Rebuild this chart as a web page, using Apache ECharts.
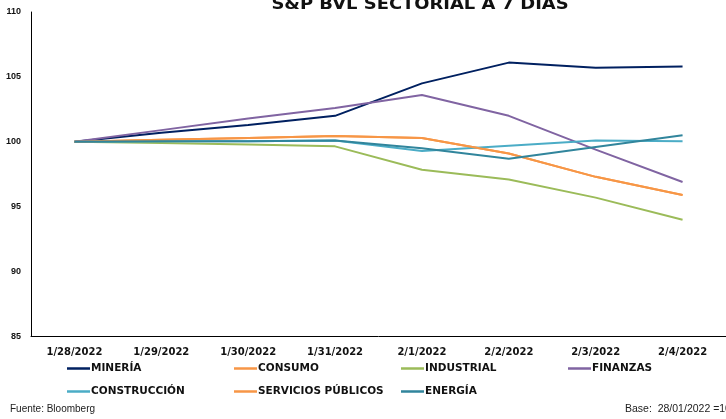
<!DOCTYPE html>
<html>
<head>
<meta charset="utf-8">
<script src="https://cdn.jsdelivr.net/npm/echarts@6/dist/echarts.min.js"></script>
<style>html,body{margin:0;padding:0;background:#fff}#c{width:726px;height:419px}</style>
</head>
<body>
<div id="c"></div>
<script>
const categories = ['1/28/2022','1/29/2022','1/30/2022','1/31/2022','2/1/2022','2/2/2022','2/3/2022','2/4/2022'];
const mineria      = [100, 100.7, 101.3, 102.0, 104.5, 106.1, 105.7, 105.8];
const consumo      = [100, 100.15, 100.3, 100.45, 100.3, 99.1, 97.3, 95.9];
const industrial   = [100, 99.9, 99.8, 99.65, 97.85, 97.1, 95.7, 94.0];
const finanzas     = [100, 100.9, 101.8, 102.6, 103.6, 102.0, 99.4, 96.9];
const construccion = [100, 100.05, 100.05, 100.1, 99.3, 99.7, 100.1, 100.05];
const servicios    = [100, 100.15, 100.3, 100.45, 100.3, 99.1, 97.3, 95.9];
const energia      = [100, 100.05, 100.05, 100.1, 99.5, 98.7, 99.6, 100.5];
const yTicks = {min: 85, max: 110, interval: 5};

const names = ['MINERÍA','CONSUMO','INDUSTRIAL','FINANZAS','CONSTRUCCIÓN','SERVICIOS PÚBLICOS','ENERGÍA'];
const datasets = [mineria, consumo, industrial, finanzas, construccion, servicios, energia];
const colors = ['#002060','#F79646','#9BBB59','#8064A2','#4BACC6','#F79646','#31859C'];

const legendPos = [[67,363],[234,363],[401,363],[568,363],[67,386],[234,386],[401,386]];
const legends = names.map((n,i)=>({
  data:[n], left: legendPos[i][0], top: legendPos[i][1],
  icon:'rect', itemWidth:23, itemHeight:2.5,
  padding:0,
  textStyle:{fontFamily:'DejaVu Sans', fontWeight:'bold', fontSize:10.5, color:'#111', padding:[0,0,0,-4]},
  selectedMode:false
}));

const chart = echarts.init(document.getElementById('c'), null, {renderer:'canvas'});
chart.setOption({
  animation:false,
  backgroundColor:'#fff',
  grid:{left:31, right:0, top:12, bottom:82.5, containLabel:false},
  legend: legends,
  xAxis:{type:'category', data:categories, boundaryGap:true,
    axisLine:{lineStyle:{color:'#000', width:1}}, axisTick:{show:false},
    axisLabel:{fontFamily:'DejaVu Sans', fontWeight:'bold', fontSize:10, color:'#111', margin:11, interval:0}},
  yAxis:{type:'value', min:yTicks.min, max:yTicks.max, interval:yTicks.interval,
    splitLine:{show:false}, axisLine:{show:true, lineStyle:{color:'#000', width:1}}, axisTick:{show:false},
    axisLabel:{fontFamily:'Liberation Sans', fontWeight:'bold', fontSize:9, color:'#111', margin:10}},
  series: names.map((n,i)=>({name:n, type:'line', data:datasets[i], symbol:'none', smooth:false,
    lineStyle:{width:2, color:colors[i]}, itemStyle:{color:colors[i]}, z:2+i})),
  graphic:[
    {type:'text', x:420, y:-3, scaleX:1.12, z:100,
      style:{text:'S&P BVL SECTORIAL A 7 DIAS', font:'bold 16px "DejaVu Sans"', fill:'#111',
        textAlign:'center', textVerticalAlign:'top'}},
    {type:'text', left:10, top:404, style:{text:'Fuente: Bloomberg', font:'10px "Liberation Sans"', fill:'#222'}},
    {type:'text', left:625, top:404, style:{text:'Base:  28/01/2022 =100', font:'10.5px "Liberation Sans"', fill:'#222'}}
  ]
});
</script>
</body>
</html>
